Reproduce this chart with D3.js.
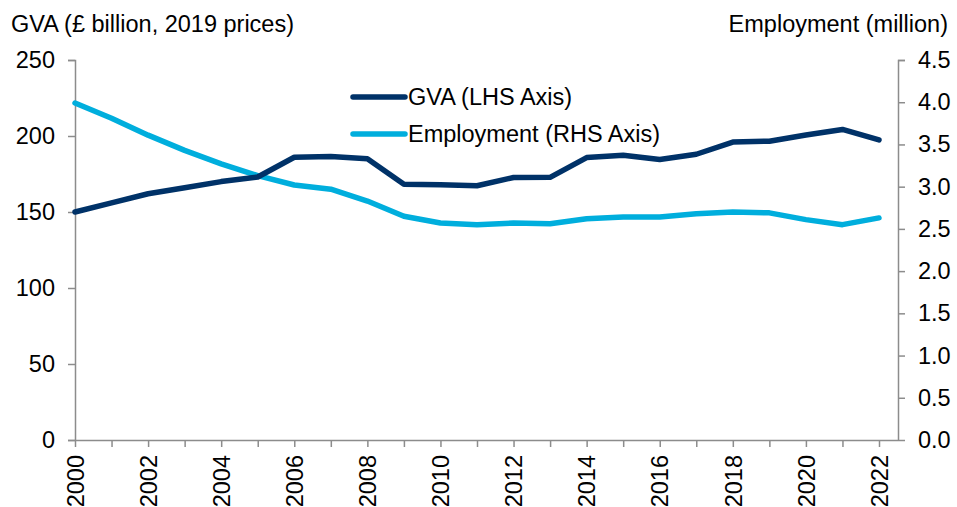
<!DOCTYPE html>
<html>
<head>
<meta charset="utf-8">
<script src="https://cdn.jsdelivr.net/npm/d3@7"></script>
<style>
  body { margin: 0; background: #fff; }
  svg { display: block; font-family: "Liberation Sans", Arial, sans-serif; }
</style>
</head>
<body>
<div id="chart"></div>
<script>
// Data
const years = d3.range(2000, 2023);
const gva = [150, 156, 162, 166, 170, 173, 186, 186.5, 185, 168.3, 168, 167.3, 172.7, 172.8, 185.8, 187.3, 184.6, 188, 196, 196.6, 200.7, 204.3, 197.4];
const employment = [3.99, 3.81, 3.61, 3.43, 3.27, 3.13, 3.02, 2.97, 2.83, 2.65, 2.57, 2.55, 2.57, 2.56, 2.62, 2.64, 2.64, 2.68, 2.70, 2.69, 2.61, 2.55, 2.63];
const leftTicks = [0, 50, 100, 150, 200, 250];
const rightTicks = [0, 0.5, 1.0, 1.5, 2.0, 2.5, 3.0, 3.5, 4.0, 4.5];
const xTickYears = d3.range(2000, 2023, 2);

const width = 957, height = 507;
const margin = { left: 75, right: 898, top: 60, bottom: 440 };
const axisColor = '#8c8c8c';
const gvaColor = '#003268';
const empColor = '#00AEDD';
const fontSize = 23.5;

const svg = d3.select('#chart').append('svg')
    .attr('width', width)
    .attr('height', height);

// Scales
const step = (879 - margin.left) / 22;
const x = d3.scaleLinear().domain([2000, 2022]).range([margin.left, margin.left + 22 * step]);
const yL = d3.scaleLinear().domain([0, 250]).range([margin.bottom, margin.top]);
const yR = d3.scaleLinear().domain([0, 4.5]).range([margin.bottom, margin.top]);

// Left axis
const leftAxis = svg.append('g')
    .attr('transform', `translate(${margin.left},0)`)
    .call(d3.axisLeft(yL).tickValues(leftTicks).tickSize(7).tickPadding(13).tickFormat(d3.format('d')));

// Right axis
const rightAxis = svg.append('g')
    .attr('transform', `translate(${margin.right},0)`)
    .call(d3.axisRight(yR).tickValues(rightTicks).tickSize(7).tickPadding(13).tickFormat(d3.format('.1f')));

// Bottom axis
const xAxis = svg.append('g')
    .attr('transform', `translate(0,${margin.bottom})`)
    .call(d3.axisBottom(x).tickValues(years).tickSize(7).tickFormat(d => xTickYears.includes(d) ? d : ''));

xAxis.select('.domain').attr('d', `M${margin.left - 7},0.5H${margin.right}`);
xAxis.selectAll('text')
    .attr('transform', 'rotate(-90)')
    .attr('text-anchor', 'end')
    .attr('x', -15)
    .attr('y', 0)
    .attr('dy', '0.35em');

[leftAxis, rightAxis, xAxis].forEach(g => {
    g.selectAll('.domain').attr('stroke', axisColor).attr('stroke-width', 1.5);
    g.selectAll('.tick line').attr('stroke', axisColor).attr('stroke-width', 1.5);
    g.selectAll('text').attr('font-size', fontSize).attr('fill', '#000')
        .attr('font-family', '"Liberation Sans", Arial, sans-serif');
});
leftAxis.select('.domain').attr('d', `M-7,${margin.top + 0.5}H0.5V${margin.bottom}`);
rightAxis.select('.domain').attr('d', `M7,${margin.top + 0.5}H0.5V${margin.bottom}`);

// Lines
const lineL = d3.line().x((d, i) => x(years[i])).y(d => yL(d));
const lineR = d3.line().x((d, i) => x(years[i])).y(d => yR(d));

svg.append('path')
    .datum(employment)
    .attr('d', lineR)
    .attr('fill', 'none')
    .attr('stroke', empColor)
    .attr('stroke-width', 5.5)
    .attr('stroke-linecap', 'round')
    .attr('stroke-linejoin', 'round');

svg.append('path')
    .datum(gva)
    .attr('d', lineL)
    .attr('fill', 'none')
    .attr('stroke', gvaColor)
    .attr('stroke-width', 5.5)
    .attr('stroke-linecap', 'round')
    .attr('stroke-linejoin', 'round');

// Axis titles
svg.append('text')
    .attr('x', 11).attr('y', 32)
    .attr('font-size', fontSize)
    .text('GVA (£ billion, 2019 prices)');
svg.append('text')
    .attr('x', 948).attr('y', 32)
    .attr('text-anchor', 'end')
    .attr('font-size', fontSize)
    .text('Employment (million)');

// Legend
const legend = [
    { label: 'GVA (LHS Axis)', color: gvaColor, y: 97 },
    { label: 'Employment (RHS Axis)', color: empColor, y: 134 }
];
legend.forEach(l => {
    svg.append('line')
        .attr('x1', 353).attr('x2', 405)
        .attr('y1', l.y).attr('y2', l.y)
        .attr('stroke', l.color)
        .attr('stroke-width', 5.5)
        .attr('stroke-linecap', 'round');
    svg.append('text')
        .attr('x', 408).attr('y', l.y)
        .attr('dy', '0.35em')
        .attr('font-size', fontSize)
        .text(l.label);
});
</script>
</body>
</html>
